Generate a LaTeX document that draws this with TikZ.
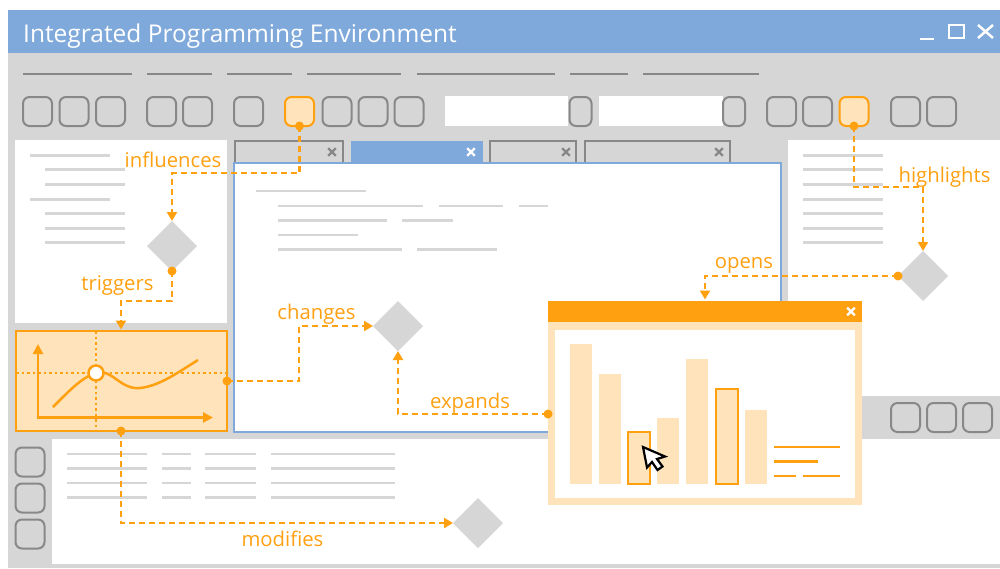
\documentclass[tikz,border=0pt]{standalone}
\usepackage{fontspec}
\setmainfont{Open Sans}
\usetikzlibrary{arrows.meta,shapes.geometric,calc}
\definecolor{ideblue}{HTML}{7FA9DB}
\definecolor{idegray}{HTML}{D6D6D6}
\definecolor{ideline}{HTML}{888888}
\definecolor{ideorange}{HTML}{FFA011}
\definecolor{idecream}{HTML}{FFE3BA}
\begin{document}
\begin{tikzpicture}[x=1pt,y=-1pt,
  btn/.style={draw=ideline, fill=idegray, line width=2pt, rounded corners=6.5pt,
    minimum width=29pt, minimum height=29pt, inner sep=0pt, outer sep=0pt},
  btnhl/.style={btn, draw=ideorange, fill=idecream},
  nbtn/.style={btn, minimum width=22pt},
  box/.style={anchor=north west, inner sep=0pt, outer sep=0pt, draw=none},
  tabbox/.style={box, draw=ideline, fill=idegray, line width=2.5pt, minimum height=24pt},
  decision/.style={diamond, fill=idegray, draw=none, minimum width=50pt,
    minimum height=50pt, inner sep=0pt, outer sep=0pt},
  dot/.style={circle, fill=ideorange, minimum size=9pt, inner sep=0pt},
  conn/.style={draw=ideorange, line width=2.3pt, dash pattern=on 6pt off 4pt,
    -{Triangle[length=9pt,width=10pt]}},
  lbl/.style={text=ideorange, font=\fontsize{20.3}{21}\selectfont, inner sep=0pt, anchor=base},
  menuline/.style={draw=ideline, line width=2.5pt},
  txtline/.style={draw=idegray, line width=2.5pt},
  legline/.style={draw=ideorange, line width=2.5pt},
  xm/.pic={\draw[line width=2.3pt] (-3.8,-3.8) -- (3.8,3.8) (-3.8,3.8) -- (3.8,-3.8);}
]
\useasboundingbox (0,0) rectangle (1000,568);

% window frame and title bar
\fill[idegray] (8,53) rectangle (1000,568);
\fill[ideblue] (8,10) rectangle (1000,53);
\node[anchor=base west, text=white, inner sep=0pt, font=\fontsize{24.5}{25}\selectfont]
  (title) at (23,42) {Integrated Programming Environment};
% minimize, maximize and close controls
\draw[white, line width=2.5pt] (920,39) -- (934,39);
\draw[white, line width=2.5pt] (949,25) rectangle (964,38);
\draw[white, line width=2.5pt] (978,25) -- (993,38) (978,38) -- (993,25);

% menu bar
\foreach \a/\b in {23/132,147/212,227/292,307/401,417/555,570/628,643/759}
  \draw[menuline] (\a,74) -- (\b,74);

% toolbar
\foreach \n/\cx in {1/37.5,2/74,3/110.5,4/161.5,5/197.5,6/248.5,8/337,9/373,10/409,
                    14/781.5,15/817.5,17/905.5,18/941.5}
  \node[btn] (tb\n) at (\cx,111.5) {};
\node[btnhl] (tb7) at (299.5,111.5) {};
\node[btnhl] (tb16) at (854,111.5) {};
\node[box, fill=white, minimum width=123pt, minimum height=30pt] (field1) at (445,96) {};
\node[box, fill=white, minimum width=124pt, minimum height=30pt] (field2) at (599,96) {};
\node[nbtn] (tb11) at (580.5,111.5) {};
\node[nbtn] (tb13) at (734,111.5) {};

% left side panel
\node[box, fill=white, minimum width=212pt, minimum height=183pt] (leftpanel) at (15,140) {};
\foreach \y/\a/\b in {155/30/110,169.5/45/125,184/45/125,199/30/110,213.5/45/125,228/45/125,242.5/45/125}
  \draw[txtline, line width=3pt] (\a,\y) -- (\b,\y);

% right side panel
\node[box, fill=white, minimum width=212pt, minimum height=256pt] (rightpanel) at (788,140) {};
\foreach \y in {155,169.5,184,199,213.5,228,242.5}
  \draw[txtline, line width=3pt] (803,\y) -- (883,\y);

% bottom panel
\node[box, fill=white, minimum width=948pt, minimum height=125pt] (bottompanel) at (52,439) {};
\foreach \y in {454,468.5,483,497.5}
  \foreach \a/\b in {67/147,162/191,205/256,271/395}
    \draw[txtline] (\a,\y) -- (\b,\y);
\foreach \n/\cy in {1/462,2/498,3/534}
  \node[btn] (sb\n) at (30,\cy) {};
\foreach \n/\cx in {1/905.5,2/941.5,3/977.5}
  \node[btn] (rb\n) at (\cx,417.5) {};

% editor tabs
\node[tabbox, minimum width=108pt] (tab1) at (235,141) {};
\node[box, fill=ideblue, minimum width=132pt, minimum height=22pt] (tab2) at (351,141) {};
\node[tabbox, minimum width=86pt] (tab3) at (490,141) {};
\node[tabbox, minimum width=145pt] (tab4) at (585,141) {};
\pic[color=ideline] at (332,152) {xm};
\pic[color=white] at (471,152) {xm};
\pic[color=ideline] at (566,152) {xm};
\pic[color=ideline] at (719,152) {xm};

% editor
\node[box, draw=ideblue, fill=white, line width=2pt, minimum width=547pt, minimum height=269pt]
  (editor) at (234,162.5) {};
\draw[txtline, line width=2.2pt] (256,191) -- (366,191);
\draw[txtline, line width=2.2pt] (278,206) -- (423,206) (439,206) -- (503,206) (519,206) -- (548,206);
\draw[txtline, line width=2.2pt] (278,220.5) -- (387,220.5) (402,220.5) -- (453,220.5);
\draw[txtline, line width=2.2pt] (278,235) -- (358,235);
\draw[txtline, line width=2.2pt] (278,249.5) -- (402,249.5) (417,249.5) -- (497,249.5);

% plot panel
\node[box, draw=ideorange, fill=idecream, line width=2.5pt, minimum width=211pt, minimum height=100pt]
  (chart) at (16,331) {};
\draw[ideorange, line width=2.5pt, dash pattern=on 2.5pt off 3pt] (96,331) -- (96,431);
\draw[ideorange, line width=2.5pt, dash pattern=on 2.5pt off 3pt] (16,373) -- (227,373);
\draw[ideorange, line width=2.5pt, {Triangle[length=10pt,width=10pt]}-{Triangle[length=10pt,width=10pt]}]
  (38,344) -- (38,417.5) -- (213,417.5);
\draw[ideorange, line width=2.5pt]
  (53,407) .. controls (68,392) and (82,377) .. (96,373)
  .. controls (112,368) and (120,390) .. (140,388)
  .. controls (160,386) and (180,371) .. (198,360);
\draw[ideorange, fill=white, line width=2.5pt] (96,373) circle (7.5);

% decision points
\node[decision] (d1) at (172,246) {};
\node[decision] (d2) at (398,326) {};
\node[decision] (d3) at (923,276) {};
\node[decision] (d4) at (478,523) {};

% chart window
\node[box, fill=idecream, minimum width=314pt, minimum height=204pt] (win) at (548,301) {};
\fill[ideorange] (548,301) rectangle (862,322);
\pic[color=white] at (851,311.5) {xm};
\fill[white] (555,330) rectangle (855,498);
\fill[idecream] (570,344) rectangle (592,483.5);
\fill[idecream] (599,374) rectangle (621,484);
\draw[ideorange, fill=idecream, line width=2pt] (628,432) rectangle (650,483.5);
\fill[idecream] (657,418) rectangle (679,484);
\fill[idecream] (686,359) rectangle (708,483.5);
\draw[ideorange, fill=idecream, line width=2pt] (716,388.5) rectangle (737.5,483.5);
\fill[idecream] (745,410) rectangle (767,483.5);
\draw[legline] (774,447) -- (840,447);
\draw[legline] (774,461.5) -- (818,461.5);
\draw[legline] (774,476) -- (796,476) (803,476) -- (840,476);
\draw[black, fill=white, line width=2.2pt, line join=miter]
  (643,447) -- (647,467.5) -- (652,462) -- (657.5,470) -- (662.5,466.5) -- (657,459) -- (665,456.5) -- cycle;

% connectors
\coordinate (chartTop) at ($(chart.north west)+(105,-1.5)$);
\coordinate (winTop) at ($(win.north west)+(157,-1.5)$);
\node[dot] (s1) at (tb7.south) {};
\draw[conn] (s1.center) -- ++(0,47) -| (d1.north);
\node[dot] (s2) at (d1.south) {};
\draw[conn] (s2.center) -- ++(0,30) -| (chartTop);
\node[dot] (s3) at (chart.east) {};
\draw[conn] (s3.center) -- ++(72,0) |- (d2.west);
\node[dot] (s4) at ($(win.north west)+(0,113)$) {};
\draw[conn] (s4.center) -| (d2.south);
\node[dot] (s5) at (tb16.south) {};
\draw[conn] (s5.center) -- ++(0,61) -| (d3.north);
\node[dot] (s6) at (d3.west) {};
\draw[conn] (s6.center) -| (winTop);
\node[dot] (s7) at ($(chart.south west)+(105,0)$) {};
\draw[conn] (s7.center) |- (d4.west);

% connector labels
\node[lbl] (l1) at (173,167) {influences};
\node[lbl] (l2) at (117.5,290) {triggers};
\node[lbl] (l3) at (316.5,319) {changes};
\node[lbl] (l4) at (470,408) {expands};
\node[lbl] (l5) at (744,268.5) {opens};
\node[lbl] (l6) at (944.5,182) {highlights};
\node[lbl] (l7) at (282.5,546) {modifies};
\end{tikzpicture}
\end{document}
